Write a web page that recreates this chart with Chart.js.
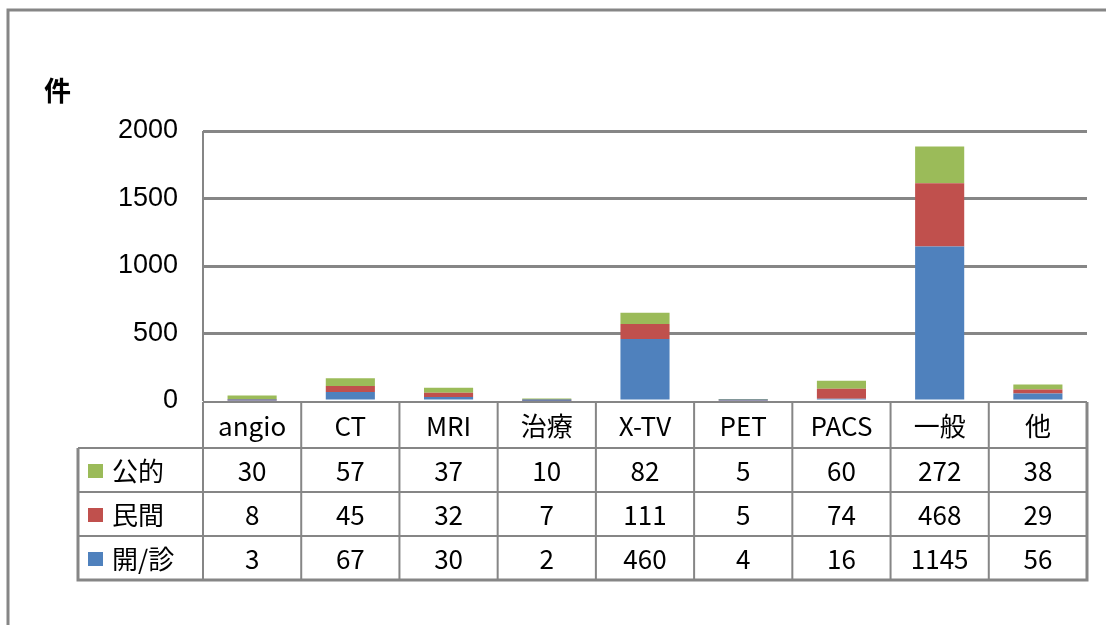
<!DOCTYPE html>
<html>
<head>
<meta charset="utf-8">
<script src="https://cdn.jsdelivr.net/npm/chart.js@4"></script>
<style>
  html, body { margin: 0; padding: 0; background: #fff; }
  #wrap { position: relative; width: 1106px; height: 625px; }
</style>
</head>
<body>
<div id="wrap"><canvas id="chart"></canvas></div>
<script>
// chart data
const categories = ['angio', 'CT', 'MRI', '治療', 'X-TV', 'PET', 'PACS', '一般', '他'];
const kouteki = [30, 57, 37, 10, 82, 5, 60, 272, 38];   // 公的
const minkan = [8, 45, 32, 7, 111, 5, 74, 468, 29];     // 民間
const kaishin = [3, 67, 30, 2, 460, 4, 16, 1145, 56];   // 開/診
const yTicks = [0, 500, 1000, 1500, 2000];

const GREEN = '#9BBB59';
const RED = '#C0504D';
const BLUE = '#4F81BD';
const LINE = '#868686';
const jpFont = '"Noto Sans CJK JP", sans-serif';

// rows of the data table, top to bottom
const tableRows = [
    { label: '公的', color: GREEN, values: kouteki },
    { label: '民間', color: RED, values: minkan },
    { label: '開/診', color: BLUE, values: kaishin }
];

// draws frame, unit label and the data table under the plot
const tablePlugin = {
    id: 'dataTable',
    beforeDraw(chart) {
        const ctx = chart.ctx;
        ctx.save();
        ctx.strokeStyle = LINE;
        ctx.lineWidth = 3;
        ctx.beginPath();
        ctx.moveTo(8, 625);
        ctx.lineTo(8, 10);
        ctx.lineTo(1106, 10);
        ctx.stroke();
        ctx.restore();
    },
    afterDraw(chart) {
        const ctx = chart.ctx;
        const x = chart.scales.x;
        const area = chart.chartArea;
        const colW = (area.right - area.left) / categories.length;
        const headTop = area.bottom + 1;
        const headH = 46;
        const rowH = 44;
        const tableLeft = 78;
        const rowsTop = headTop + headH;
        const tableBottom = rowsTop + rowH * tableRows.length;

        ctx.save();
        // unit label
        ctx.fillStyle = '#000';
        ctx.font = 'bold 27px ' + jpFont;
        ctx.textAlign = 'left';
        ctx.textBaseline = 'middle';
        ctx.fillText('件', 44, 91);

        // plot left border
        ctx.strokeStyle = LINE;
        ctx.lineWidth = 2;
        ctx.beginPath();
        ctx.moveTo(area.left, area.top);
        ctx.lineTo(area.left, area.bottom);
        ctx.stroke();

        // grid of the table
        ctx.lineWidth = 2;
        ctx.beginPath();
        for (let i = 0; i <= categories.length; i++) {
            const cx = area.left + colW * i;
            ctx.moveTo(cx, headTop);
            ctx.lineTo(cx, tableBottom);
        }
        ctx.moveTo(tableLeft, rowsTop);
        ctx.lineTo(tableLeft, tableBottom);
        for (let r = 0; r <= tableRows.length; r++) {
            const ry = rowsTop + rowH * r;
            ctx.moveTo(tableLeft, ry);
            ctx.lineTo(area.right, ry);
        }
        ctx.moveTo(area.left, headTop);
        ctx.lineTo(area.right, headTop);
        ctx.stroke();

        // thicker outer edge
        ctx.lineWidth = 3;
        ctx.beginPath();
        ctx.moveTo(tableLeft, rowsTop);
        ctx.lineTo(tableLeft, tableBottom);
        ctx.lineTo(area.right, tableBottom);
        ctx.lineTo(area.right, headTop);
        ctx.stroke();

        // header text
        ctx.fillStyle = '#000';
        ctx.textAlign = 'center';
        ctx.textBaseline = 'middle';
        ctx.font = '26px ' + jpFont;
        categories.forEach((c, i) => {
            ctx.fillText(c, x.getPixelForValue(i), headTop + headH / 2 + 1);
        });

        // data rows
        tableRows.forEach((row, r) => {
            const cy = rowsTop + rowH * r + rowH / 2 + 1;
            ctx.fillStyle = row.color;
            ctx.fillRect(88, cy - 7, 15, 14);
            ctx.fillStyle = '#000';
            ctx.textAlign = 'left';
            ctx.fillText(row.label, 112, cy);
            ctx.textAlign = 'center';
            row.values.forEach((v, i) => {
                ctx.fillText(String(v), x.getPixelForValue(i), cy);
            });
        });
        ctx.restore();
    }
};

const ctx = document.getElementById('chart').getContext('2d');
new Chart(ctx, {
    type: 'bar',
    data: {
        labels: categories,
        datasets: [
            { label: '開/診', data: kaishin, backgroundColor: BLUE },
            { label: '民間', data: minkan, backgroundColor: RED },
            { label: '公的', data: kouteki, backgroundColor: GREEN }
        ]
    },
    options: {
        responsive: true,
        maintainAspectRatio: false,
        animation: false,
        layout: { padding: { left: 0, top: 131, right: 19, bottom: 224 } },
        datasets: {
            bar: { categoryPercentage: 1, barPercentage: 0.5 }
        },
        plugins: {
            legend: { display: false },
            tooltip: { enabled: false }
        },
        scales: {
            x: {
                stacked: true,
                display: false
            },
            y: {
                stacked: true,
                min: 0,
                max: 2000,
                afterFit: s => { s.width = 203; },
                afterBuildTicks: s => { s.ticks = yTicks.map(v => ({ value: v })); },
                border: { display: false },
                grid: {
                    // the zero line is the table's top edge instead
                    color: c => (c.tick && c.tick.value === 0 ? 'rgba(0,0,0,0)' : LINE),
                    lineWidth: 3,
                    drawTicks: false
                },
                ticks: {
                    padding: 25,
                    color: '#000',
                    callback: v => String(v),
                    font: { family: '"Liberation Sans", Arial, sans-serif', size: 27 }
                }
            }
        }
    },
    plugins: [tablePlugin]
});
</script>
</body>
</html>
